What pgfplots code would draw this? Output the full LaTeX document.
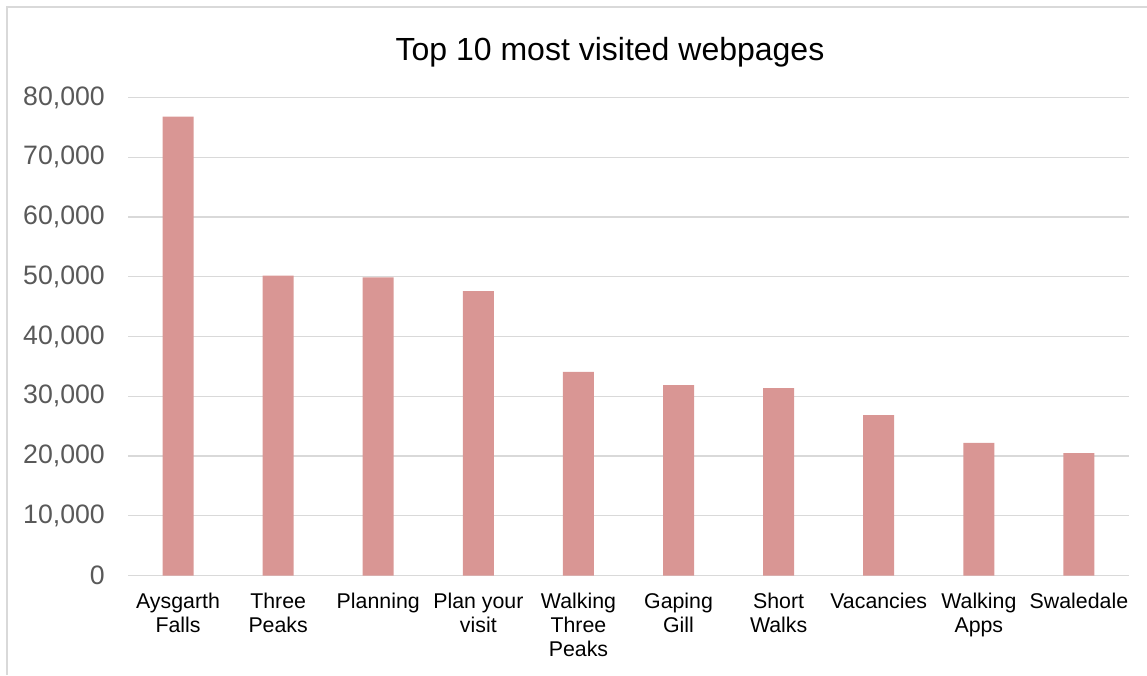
\documentclass[border=0pt]{standalone}
\usepackage{fontspec}
\setmainfont{Liberation Sans}
\usepackage{pgfplots}
\pgfplotsset{compat=1.18}
\definecolor{barc}{HTML}{D99694}
\definecolor{gridc}{HTML}{D9D9D9}
\definecolor{tickc}{HTML}{595959}
\definecolor{framec}{HTML}{D9D9D9}
\begin{document}
\begin{tikzpicture}[x=1pt,y=1pt]
\path[use as bounding box] (0,0) rectangle (1147,675);
\draw[framec, line width=1.3pt] (7,0) -- (7,668) -- (1147,668);
\node[anchor=base, inner sep=0pt, font=\fontsize{32}{38}\selectfont, text=black] at (610,614) {Top 10 most visited webpages};
\begin{axis}[
  at={(128pt,99.5pt)}, anchor=south west,
  scale only axis, width=1001pt, height=478pt,
  xmin=-0.5, xmax=9.5, ymin=0, ymax=80000,
  clip=false,
  axis line style={draw=none},
  ybar, bar width=31pt,
  xtick={0,...,9},
  xticklabels={{Aysgarth\\Falls},{Three\\Peaks},{Planning},{Plan your\\visit},{Walking\\Three\\Peaks},{Gaping\\Gill},{Short\\Walks},{Vacancies},{Walking\\Apps},{Swaledale}},
  ytick={0,10000,...,80000},
  major tick length=0pt,
  ymajorgrids,
  grid style={gridc, line width=1.3pt},
  yticklabel style={/pgf/number format/assume math mode=true, /pgf/number format/1000 sep={,}, font=\fontsize{26.67}{32}\selectfont, text=tickc, anchor=east, inner sep=0pt, xshift=-23pt},
  scaled y ticks=false,
  xticklabel style={font=\fontsize{21.33}{24}\selectfont, text=black, align=center, anchor=north, inner sep=0pt, yshift=-17pt},
]
\addplot[fill=barc, draw=none] coordinates {
(0,76790) (1,50170) (2,49900) (3,47600) (4,34060) (5,31880) (6,31380) (7,26860) (8,22180) (9,20500)
};
\end{axis}
\end{tikzpicture}
\end{document}
